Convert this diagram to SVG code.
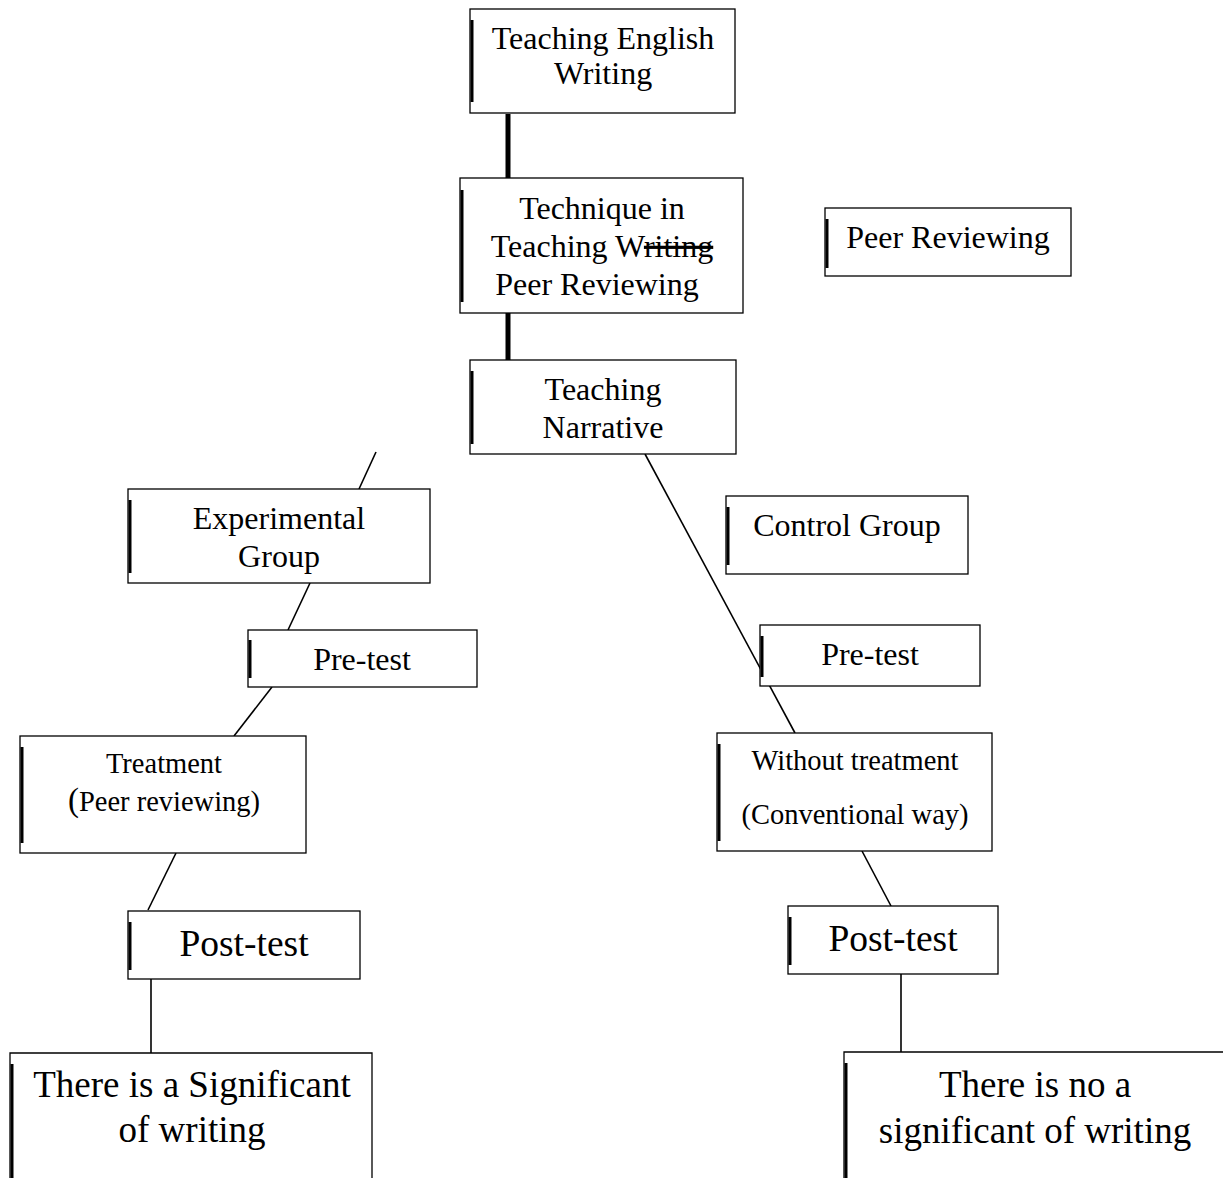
<svg xmlns="http://www.w3.org/2000/svg" width="1223" height="1178" viewBox="0 0 1223 1178">
<style>
.box{fill:#fff;stroke:#000;stroke-width:1.3}
.lb{stroke:#000;stroke-width:3}
.t{font-family:"Liberation Serif","Times New Roman",serif;fill:#000;text-anchor:middle}
.m{font-size:32px}
.s{font-size:28.5px}
.p{font-size:37.5px}
.l{font-size:37px}
.c{stroke:#000;stroke-width:1.6;fill:none}
.ct{stroke:#000;stroke-width:5;fill:none}
</style>
<rect width="1223" height="1178" fill="#fff"/>
<g id="connectors">
<line class="ct" x1="508" y1="114" x2="508" y2="178"/>
<line class="ct" x1="508" y1="313" x2="508" y2="360"/>
<line class="c" x1="376" y1="452" x2="359" y2="489"/>
<line class="c" x1="310" y1="583" x2="288" y2="630"/>
<line class="c" x1="272" y1="687" x2="234" y2="736"/>
<line class="c" x1="176" y1="853" x2="148" y2="910"/>
<line class="c" x1="151" y1="979" x2="151" y2="1053"/>
<line class="c" x1="645" y1="454" x2="795" y2="733"/>
<line class="c" x1="862" y1="851" x2="891" y2="906"/>
<line class="c" stroke-width="3" x1="901" y1="974" x2="901" y2="1052"/>
</g>
<g id="n1">
<rect class="box" x="470" y="9" width="265" height="104"/>
<line class="lb" x1="472" y1="20" x2="472" y2="102"/>
<text class="t m" x="603" y="49">Teaching English</text>
<text class="t m" x="603" y="84">Writing</text>
</g>
<g id="n2">
<rect class="box" x="460" y="178" width="283" height="135"/>
<line class="lb" x1="462" y1="190" x2="462" y2="302"/>
<text class="t m" x="602" y="219">Technique in</text>
<text class="t m" x="602" y="257">Teaching W<tspan text-decoration="line-through">riting</tspan></text>
<text class="t m" x="597" y="295">Peer Reviewing</text>
</g>
<g id="n3">
<rect class="box" x="825" y="208" width="246" height="68"/>
<line class="lb" x1="827" y1="219" x2="827" y2="268"/>
<text class="t m" x="948" y="248">Peer Reviewing</text>
</g>
<g id="n4">
<rect class="box" x="470" y="360" width="266" height="94"/>
<line class="lb" x1="472" y1="371" x2="472" y2="444"/>
<text class="t m" x="603" y="400">Teaching</text>
<text class="t m" x="603" y="438">Narrative</text>
</g>
<g id="n5">
<rect class="box" x="128" y="489" width="302" height="94"/>
<line class="lb" x1="130" y1="500" x2="130" y2="573"/>
<text class="t m" x="279" y="529">Experimental</text>
<text class="t m" x="279" y="567">Group</text>
</g>
<g id="n6">
<rect class="box" x="726" y="496" width="242" height="78"/>
<line class="lb" x1="728" y1="507" x2="728" y2="565"/>
<text class="t m" x="847" y="536">Control Group</text>
</g>
<g id="n7">
<rect class="box" x="248" y="630" width="229" height="57"/>
<line class="lb" x1="250" y1="640" x2="250" y2="678"/>
<text class="t m" x="362" y="670">Pre-test</text>
</g>
<g id="n8">
<rect class="box" x="760" y="625" width="220" height="61"/>
<line class="lb" x1="762" y1="636" x2="762" y2="677"/>
<text class="t m" x="870" y="665">Pre-test</text>
</g>
<g id="n9">
<rect class="box" x="20" y="736" width="286" height="117"/>
<line class="lb" x1="22" y1="747" x2="22" y2="843"/>
<text class="t s" x="164" y="773">Treatment</text>
<text class="t s" x="164" y="811"><tspan font-size="33">(</tspan>Peer reviewing)</text>
</g>
<g id="n10">
<rect class="box" x="717" y="733" width="275" height="118"/>
<line class="lb" x1="719" y1="744" x2="719" y2="841"/>
<text class="t s" x="855" y="770">Without treatment</text>
<text class="t s" x="855" y="824">(Conventional way)</text>
</g>
<g id="n11">
<rect class="box" x="128" y="911" width="232" height="68"/>
<line class="lb" x1="130" y1="922" x2="130" y2="970"/>
<text class="t p" x="244" y="956">Post-test</text>
</g>
<g id="n12">
<rect class="box" x="788" y="906" width="210" height="68"/>
<line class="lb" x1="790" y1="917" x2="790" y2="965"/>
<text class="t p" x="893" y="951">Post-test</text>
</g>
<g id="n13">
<path class="box" d="M10,1180 V1053 H372 V1180"/>
<line class="lb" x1="12" y1="1064" x2="12" y2="1178"/>
<text class="t l" x="192" y="1097">There is a Significant</text>
<text class="t l" x="192" y="1142">of writing</text>
</g>
<g id="n14">
<path class="box" d="M844,1180 V1052 H1225"/>
<line class="lb" x1="846" y1="1063" x2="846" y2="1178"/>
<text class="t l" x="1035" y="1097">There is no a</text>
<text class="t l" x="1035" y="1143">significant of writing</text>
</g>
</svg>
